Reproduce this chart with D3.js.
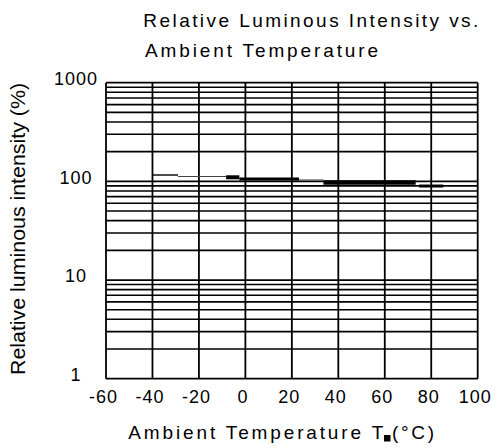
<!DOCTYPE html>
<html>
<head>
<meta charset="utf-8">
<script src="https://cdn.jsdelivr.net/npm/d3@7/dist/d3.min.js"></script>
<style>
  html, body { margin: 0; padding: 0; background: #fff; }
  svg { display: block; }
  text { font-family: "Liberation Sans", Arial, sans-serif; fill: #000; }
</style>
</head>
<body>
<svg id="chart" width="498" height="448"></svg>
<script>
// ---- data ----
const titleLines = ["Relative Luminous Intensity vs.", "Ambient Temperature"];
const xLabel = "Ambient Temperature T";
const xLabelUnit = "(°C)";
const yLabel = "Relative luminous intensity (%)";
const xTicks = [-60, -40, -20, 0, 20, 40, 60, 80, 100];
const yTicks = [1, 10, 100, 1000];
const minorMultipliers = [2, 3, 4, 5, 6, 7, 8, 9];
// measured curve: horizontal steps (temperature start, end, intensity %)
const segStart = [-40, -29, -8.3, -2.6, 23.1, 33.6, 74.8];
const segEnd   = [-29, -8.3, -2.6, 23.1, 33.6, 73.3, 85.2];
const segValue = [116, 112, 110, 105.7, 103.2, 97.4, 89.7];
// stroke styles for each step
const segWidth = [1.4, 1.2, 4, 3, 1.2, 4.5, 3];
const segColor = ["#000", "#444", "#000", "#000", "#555", "#000", "#000"];

// ---- layout ----
const svg = d3.select("#chart");
const x = d3.scaleLinear().domain([-60, 100]).range([106, 477.7]);
const y = d3.scaleLog().domain([1, 1000]).range([378.7, 82.7]);

// minor horizontal grid
const minorVals = [];
[1, 10, 100].forEach(d => minorMultipliers.forEach(m => minorVals.push(d * m)));

const grid = svg.append("g").attr("stroke", "#000").attr("fill", "none");
grid.selectAll("line.hmin").data(minorVals).join("line")
  .attr("x1", x(-60)).attr("x2", x(100))
  .attr("y1", d => y(d)).attr("y2", d => y(d))
  .attr("stroke-width", 1.6);
grid.selectAll("line.hmaj").data(yTicks).join("line")
  .attr("x1", x(-60)).attr("x2", x(100))
  .attr("y1", d => y(d)).attr("y2", d => y(d))
  .attr("stroke-width", 1.8);
grid.selectAll("line.v").data(xTicks).join("line")
  .attr("x1", d => x(d)).attr("x2", d => x(d))
  .attr("y1", y(1000)).attr("y2", y(1))
  .attr("stroke-width", 1.8);

// curve steps
svg.append("g").selectAll("line").data(segValue).join("line")
  .attr("x1", (d, i) => x(segStart[i]))
  .attr("x2", (d, i) => x(segEnd[i]))
  .attr("y1", d => y(d)).attr("y2", d => y(d))
  .attr("stroke", (d, i) => segColor[i])
  .attr("stroke-width", (d, i) => segWidth[i]);

// x axis labels
const xAxis = d3.axisBottom(x).tickValues(xTicks).tickSize(0).tickFormat(d => String(d));
const gx = svg.append("g").attr("transform", `translate(0,${y(1)})`).call(xAxis);
gx.select(".domain").remove();
gx.selectAll("text")
  .attr("y", 24.5).attr("dy", 0).attr("dx", -3)
  .style("font-size", "18px").style("letter-spacing", "1px")
  .style("font-family", "'Liberation Sans', Arial, sans-serif").attr("fill", "#000");

// y axis labels
const yAxis = d3.axisLeft(y).tickValues(yTicks).tickSize(0).tickFormat(d => String(d));
const gy = svg.append("g").attr("transform", `translate(${x(-60)},0)`).call(yAxis);
gy.select(".domain").remove();
gy.selectAll("text")
  .attr("text-anchor", "middle").attr("x", -30).attr("dy", "0.32em").attr("y", -4)
  .style("font-size", "18px").style("letter-spacing", "1px")
  .style("font-family", "'Liberation Sans', Arial, sans-serif").attr("fill", "#000");

// title
svg.append("text").attr("x", 143.3).attr("y", 26.7)
  .attr("textLength", 335).attr("lengthAdjust", "spacing")
  .style("font-size", "19px").text(titleLines[0]);
svg.append("text").attr("x", 145).attr("y", 56.7)
  .attr("textLength", 233).attr("lengthAdjust", "spacing")
  .style("font-size", "19px").text(titleLines[1]);

// x axis title
svg.append("text").attr("x", 128.3).attr("y", 439)
  .attr("textLength", 255).attr("lengthAdjust", "spacing")
  .style("font-size", "19px").text(xLabel);
svg.append("rect").attr("x", 384).attr("y", 435).attr("width", 6.5).attr("height", 6.5).attr("fill", "#000");
svg.append("text").attr("x", 392).attr("y", 439)
  .attr("textLength", 42).attr("lengthAdjust", "spacing")
  .style("font-size", "19px").text(xLabelUnit);

// y axis title
svg.append("text")
  .attr("transform", "translate(25,375) rotate(-90)")
  .attr("textLength", 292).attr("lengthAdjust", "spacingAndGlyphs")
  .style("font-size", "21px").text(yLabel);
</script>
</body>
</html>
